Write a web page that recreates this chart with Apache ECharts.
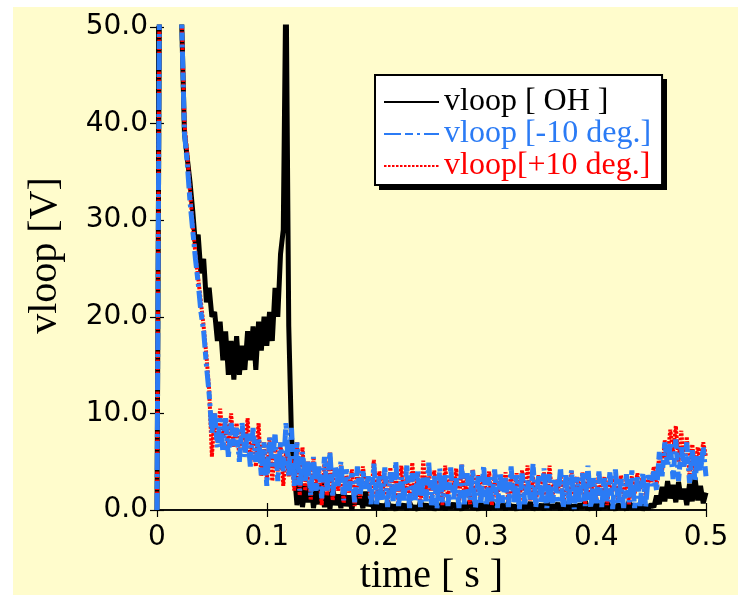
<!DOCTYPE html>
<html>
<head>
<meta charset="utf-8">
<script src="https://cdn.jsdelivr.net/npm/echarts@6/dist/echarts.min.js"></script>
<style>
  html, body { margin: 0; padding: 0; background: #ffffff; }
  #chart { width: 738px; height: 595px; }
</style>
</head>
<body>
<div id="chart"></div>
<script>
// Loop voltage traces, sampled every 2.5 ms from 0 to 0.5 s.
const SAMPLE_DT = 0.0025;

const X_TICK_LABELS = ['0', '0.1', '0.2', '0.3', '0.4', '0.5'];
const Y_TICK_LABELS = ['0.0', '10.0', '20.0', '30.0', '40.0', '50.0'];

const SERIES_NAMES = ['vloop [ OH ]', 'vloop [-10 deg.]', 'vloop[+10 deg.]'];

// vloop [ OH ]  (V)
const vloopOH = [
  0, 60, 60, 60, 60, 60, 60, 60, 60, 50.5,
  39, 36.5, 34, 31, 27.5, 28.5, 24.5, 26, 21.5, 23,
  20, 20.5, 17.5, 19.5, 15.5, 18.5, 14, 17.5, 13.5, 18,
  14, 17, 14.5, 18.5, 15.5, 19, 14.5, 19.5, 16.5, 20,
  17, 20.5, 17.5, 23, 20, 26.5, 29, 56, 19, 7.5,
  4, 0.5, 3.5, 0.3, 2.5, 0.8, 3, 0.2, 2, 0.6,
  2.8, 0.3, 1.8, 0.1, 2.4, 0.5, 1.6, 0.2, 2.2, 0.4,
  1.5, 0, 2, 0.6, 1.4, 0.2, 1.9, 0.4, 1.2, 0.1,
  0.8, 0.1, 0.6, 0, 0.9, 0.2, 0.5, 0, 0.7, 0.2,
  0.6, 0, 0.8, 0.1, 0.4, 0, 0.9, 0.2, 0.6, 0.1,
  0.7, 0, 0.5, 0.1, 0.8, 0, 0.6, 0.2, 0.7, 0.1,
  0.5, 0, 0.6, 0.2, 0.9, 0.1, 0.5, 0, 0.7, 0.1,
  0.6, 0, 0.8, 0.1, 0.5, 0.2, 0.6, 0, 0.8, 0.1,
  0.5, 0, 0.7, 0.1, 0.6, 0.2, 0.8, 0, 0.5, 0.1,
  0.6, 0, 0.9, 0.1, 0.5, 0.2, 0.7, 0, 0.6, 0.1,
  0.8, 0, 0.5, 0.1, 0.6, 0.2, 0.9, 0, 0.5, 0.1,
  0.7, 0, 0.6, 0.2, 0.8, 0.1, 0.5, 0, 0.6, 0.2,
  0.5, 0, 0.9, 0.1, 0.6, 0.1, 0.7, 0, 0.5, 0.1,
  0.6, 0.3, 1.5, 0.6, 2.4, 0.9, 3, 1.2, 2.6, 0.8,
  2.9, 1.1, 2.2, 0.5, 2.7, 0.9, 3.3, 1, 2.5, 0.7,
  1.8
];

// vloop [-10 deg.]  (V)
const vloopMinus10 = [
  0, 60, 60, 60, 60, 60, 60, 60, 60, 50.5,
  39, 36, 32, 29, 26, 23.5, 20.5, 18.5, 15, 12,
  8, 10, 6.5, 9.5, 6, 9.5, 5.5, 9, 6.5, 8.5,
  5, 9, 5.5, 8, 4.5, 8.5, 5, 7.5, 3.5, 7,
  2.5, 7.5, 4.5, 8, 3, 7, 4, 9, 3.5, 8.5,
  2.5, 7, 2, 6, 3, 5, 1.5, 5.5, 2, 4.5,
  1.2, 5.5, 2, 6, 1.5, 4.5, 2.5, 5, 1, 4.2,
  2, 3.8, 0.8, 4.5, 1.5, 4, 2.2, 3.5, 0.6, 4.8,
  0.6, 3.6, 0.9, 4.4, 0.3, 3.9, 0.7, 5, 0.4, 3.4,
  1, 4.6, 0.2, 3.8, 0.8, 4.2, 0.3, 3.5, 0.9, 4.9,
  0.5, 3.7, 0.1, 4.3, 0.8, 3.6, 0.4, 4.4, 0.9, 3.3,
  0.2, 4.7, 0.6, 3.8, 1, 4.1, 0.2, 3.5, 0.7, 4.6,
  0.4, 3.4, 0.9, 4.2, 0.2, 3.9, 0.7, 3.3, 0.3, 4.5,
  0.8, 3.6, 0.1, 4, 0.6, 3.2, 0.9, 4.8, 0.3, 3.5,
  0.7, 4.3, 0.2, 3.7, 0.5, 3.1, 0.9, 4.4, 0.2, 3.6,
  0.6, 4.1, 0.1, 3.4, 0.8, 3.8, 0.4, 4.6, 0.2, 3.3,
  0.7, 4, 0.3, 3.5, 0.9, 3.9, 0.1, 4.2, 0.6, 3.2,
  0.2, 3.7, 0.8, 4.1, 0.2, 3.4, 0.4, 3.9, 0.3, 3.6,
  2.5, 4, 2, 6, 3.5, 7, 4.5, 6.8, 3.2, 7.3,
  3, 6.5, 4.5, 7, 2.8, 6.2, 3, 5.8, 4, 6.5,
  3.5
];

// vloop[+10 deg.]  (V)
const vloopPlus10 = [
  0, 60, 60, 60, 60, 60, 60, 60, 60, 51,
  40, 37, 33, 29.5, 26.5, 24, 21.5, 19, 16, 12.5,
  5.5, 10, 7, 10.5, 7.5, 9.5, 6.5, 10, 6.5, 9,
  5.5, 8.5, 6, 9.5, 5, 8, 4.5, 9, 3.5, 7,
  3, 7.5, 3, 6.5, 4, 7, 2.5, 6, 3.5, 5.5,
  2, 7, 1.5, 6.5, 2, 5, 1, 5.5, 2.5, 4.5,
  0.5, 4.8, 1.5, 6, 1, 4, 2, 4.6, 0.7, 3.6,
  1.8, 4.2, 0.4, 3.9, 1.2, 4.5, 2.5, 3.2, 0.9, 5.2,
  1.1, 4, 1.7, 3.5, 0.5, 4.4, 2.1, 3.7, 0.8, 4.6,
  1.5, 3.4, 0.6, 4.9, 1.3, 3.8, 0.4, 5.1, 1.9, 3.5,
  0.9, 4.1, 1.6, 3.6, 0.5, 4.6, 1.2, 3.3, 2, 4.3,
  0.7, 4.7, 1.4, 3.5, 0.6, 4.2, 1.8, 3.6, 0.9, 3.4,
  1.5, 4, 0.5, 3.7, 1.3, 3.3, 2, 3.9, 0.8, 3.5,
  1.2, 3.8, 0.6, 4.1, 1.7, 4.6, 1, 3.4, 0.5, 3.6,
  1.8, 3.9, 0.7, 4.6, 1.1, 3.2, 1.9, 3.7, 0.4, 3.3,
  1.4, 4.1, 0.9, 3.5, 1.6, 3.9, 0.6, 3.4, 1.3, 3.2,
  0.8, 3.9, 1.5, 3.4, 0.5, 3.7, 1.9, 3.3, 1, 3.6,
  1.4, 3.1, 0.6, 3.5, 1.7, 3.8, 2.2, 3.4, 1.5, 3.6,
  2.8, 4.5, 2.6, 5.8, 4, 7.2, 5.5, 8.3, 6, 8.7,
  5, 8.2, 4.5, 7.6, 3.5, 6.8, 4, 6.5, 5, 7,
  5.5
];

const COLORS = { oh: '#000000', minus: '#2b7bf5', plus: '#ff0000' };

// pair each sample with its acquisition time
function toPoints(values) {
  return values.map((v, i) => [i * SAMPLE_DT, v]);
}

const chart = echarts.init(document.getElementById('chart'), null, { renderer: 'canvas' });

const axisLineStyle = { color: '#000', width: 1.5 };
const tickStyle = { show: true, inside: true, length: 7, lineStyle: { color: '#000', width: 1.2 } };

// legend frame geometry (box plus its hard drop shadow)
const LEGEND_BOX = { x: 375, y: 75, w: 288, h: 111, shadow: 4 };

chart.setOption({
  animation: false,
  backgroundColor: '#ffffff',
  graphic: [{
    type: 'rect',
    z: -10,
    silent: true,
    shape: { x: 13, y: 7, width: 725, height: 588 },
    style: { fill: '#fffccc' }
  }, {
    type: 'rect',
    z: 5,
    silent: true,
    shape: {
      x: LEGEND_BOX.x + LEGEND_BOX.shadow,
      y: LEGEND_BOX.y + LEGEND_BOX.shadow,
      width: LEGEND_BOX.w,
      height: LEGEND_BOX.h
    },
    style: { fill: '#000000' }
  }],
  grid: { left: 157, top: 27, right: 32, bottom: 85, containLabel: false, outerBoundsMode: 'none' },
  legend: {
    z: 6,
    orient: 'vertical',
    left: LEGEND_BOX.x,
    top: LEGEND_BOX.y,
    width: LEGEND_BOX.w,
    padding: [11, 11, 3, 8],
    itemGap: 0,
    itemWidth: 55,
    itemHeight: 30,
    backgroundColor: '#ffffff',
    borderColor: '#000000',
    borderWidth: 2,
    borderRadius: 0,
    // line-only keys: hide the marker drawn on the key line
    itemStyle: { opacity: 0 },
    textStyle: { fontFamily: 'Liberation Serif', fontSize: 32, padding: [8, 0, 0, 0] },
    data: [
      { name: SERIES_NAMES[0], textStyle: { color: COLORS.oh } },
      { name: SERIES_NAMES[1], textStyle: { color: COLORS.minus } },
      { name: SERIES_NAMES[2], textStyle: { color: COLORS.plus } }
    ]
  },
  xAxis: [{
    type: 'value',
    min: 0, max: 0.5, interval: 0.1,
    name: 'time [ s ]',
    nameLocation: 'middle',
    nameGap: 45,
    nameTextStyle: { fontFamily: 'Liberation Serif', fontSize: 40, color: '#000' },
    axisLine: { show: true, lineStyle: axisLineStyle },
    axisTick: tickStyle,
    splitLine: { show: false },
    axisLabel: {
      margin: 14,
      color: '#000',
      fontFamily: 'DejaVu Sans',
      fontSize: 28,
      formatter: (v, i) => X_TICK_LABELS[i]
    }
  }, {
    type: 'value',
    position: 'top',
    min: 0, max: 0.5, interval: 0.1,
    axisLine: { show: true, lineStyle: axisLineStyle },
    axisTick: tickStyle,
    axisLabel: { show: false },
    splitLine: { show: false }
  }],
  yAxis: [{
    type: 'value',
    min: 0, max: 50, interval: 10,
    name: 'vloop [V]',
    nameLocation: 'middle',
    nameGap: 92,
    nameRotate: 90,
    nameTextStyle: { fontFamily: 'Liberation Serif', fontSize: 40, color: '#000', padding: [0, 0, 0, 26] },
    axisLine: { show: true, lineStyle: axisLineStyle },
    axisTick: tickStyle,
    splitLine: { show: false },
    axisLabel: {
      margin: 9,
      color: '#000',
      fontFamily: 'DejaVu Sans',
      fontSize: 28,
      formatter: (v, i) => Y_TICK_LABELS[i]
    }
  }, {
    type: 'value',
    position: 'right',
    min: 0, max: 50, interval: 10,
    axisLine: { show: true, lineStyle: axisLineStyle },
    axisTick: tickStyle,
    axisLabel: { show: false },
    splitLine: { show: false }
  }],
  series: [{
    name: SERIES_NAMES[0],
    type: 'line',
    z: 2,
    symbol: 'none',
    showSymbol: false,
    clip: true,
    data: toPoints(vloopOH),
    lineStyle: { color: COLORS.oh, width: 5, type: 'solid' },
    itemStyle: { color: COLORS.oh }
  }, {
    name: SERIES_NAMES[2],
    type: 'line',
    z: 3,
    symbol: 'none',
    showSymbol: false,
    clip: true,
    data: toPoints(vloopPlus10),
    lineStyle: { color: COLORS.plus, width: 4, type: [2.5, 1.5] },
    itemStyle: { color: COLORS.plus }
  }, {
    name: SERIES_NAMES[1],
    type: 'line',
    z: 4,
    symbol: 'none',
    showSymbol: false,
    clip: true,
    data: toPoints(vloopMinus10),
    lineStyle: { color: COLORS.minus, width: 5, type: [17, 4, 8, 4, 3, 4] },
    itemStyle: { color: COLORS.minus }
  }]
});
</script>
</body>
</html>
